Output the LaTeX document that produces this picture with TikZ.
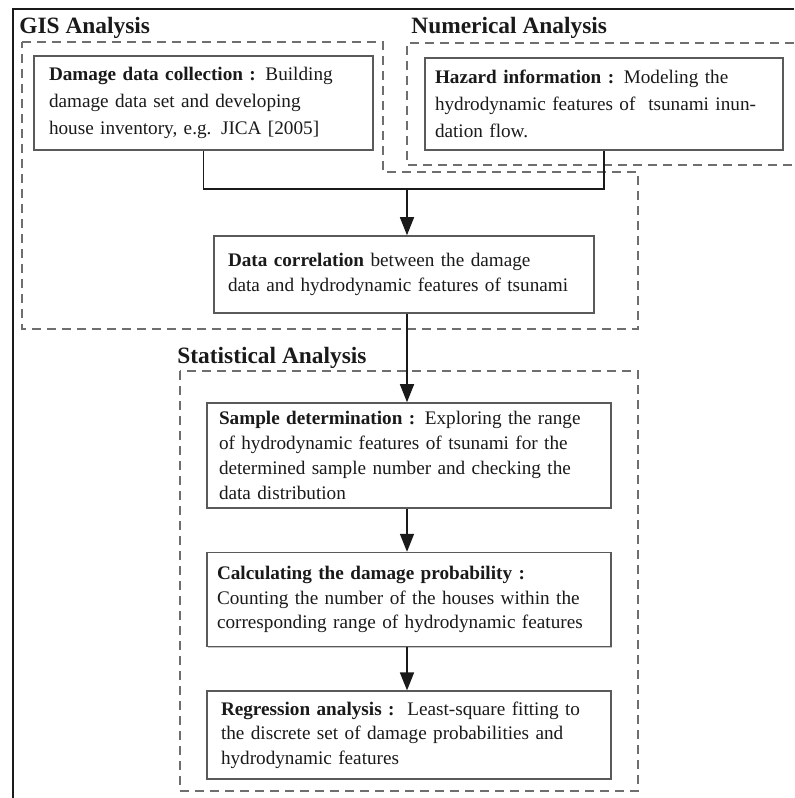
\documentclass[tikz,border=0pt]{standalone}
\usepackage{fontspec}
\setmainfont{Liberation Serif}
\usepackage{xcolor}
\usetikzlibrary{arrows.meta,positioning,shadows}
\setlength{\parindent}{0pt}
\definecolor{Ink}{HTML}{1A1A1A}
\definecolor{Frame}{HTML}{5A5A5A}
\definecolor{DGray}{HTML}{6E6E6E}
\begin{document}
\begin{tikzpicture}[x=0.5pt,y=-0.5pt,
    font=\fontsize{9.6}{12.4}\selectfont,
    stage/.style={draw=Frame,fill=white,line width=0.8pt,align=left,inner ysep=2pt,
      text=Ink,drop shadow={shadow xshift=0.6pt,shadow yshift=-0.6pt,fill=black!45}},
    loose/.style={font=\fontsize{9.6}{13.5}\selectfont},
    grp/.style={draw=DGray,line width=0.8pt,dash pattern=on 4.5pt off 3pt},
    ttl/.style={anchor=base west,inner sep=0pt,text=Ink,
      font=\fontsize{11.7}{13}\selectfont\bfseries},
    flow/.style={draw=Ink,line width=0.8pt},
    arr/.style={flow,-{Triangle[length=9pt,width=7pt]}}]
  \useasboundingbox (0,0) rectangle (794,798);
  % outer frame
  \draw[Ink,line width=1pt] (12.5,798) -- (12.5,8.5) -- (794,8.5);
  % dashed groups
  \draw[grp] (22,42) -- (383,42) -- (383,172) -- (638,172) -- (638,329) -- (22,329) -- cycle;
  \draw[grp] (794,43) -- (407,43) -- (407,165) -- (794,165);
  \draw[grp] (180,371) rectangle (638,791);
  \node[ttl] (gis) at (19,33) {GIS Analysis};
  \node[ttl] (num) at (411,33) {Numerical Analysis};
  \node[ttl] (stat) at (177,363) {Statistical Analysis};
  % stages
  \node[stage,loose,text width=154.5pt,inner xsep=7.5pt,minimum height=47pt] (dmg) at (203.5,103)
    {\textbf{Damage data collection :} Building\\damage data set and developing\\house inventory, e.g. JICA [2005]};
  \node[stage,loose,text width=169pt,inner xsep=5pt,minimum height=46pt] (haz) at (604,104)
    {\textbf{Hazard information :} Modeling the\\hydrodynamic features of\ \ tsunami inun-\\dation flow.};
  \node[stage,text width=176pt,inner xsep=7pt,minimum height=38.5pt] (corr) at (404,274.5)
    {\textbf{Data correlation} between the damage\\data and hydrodynamic features of tsunami};
  \node[stage,text width=190pt,inner xsep=6pt,minimum height=52.5pt] (samp) at (409,455.5)
    {\textbf{Sample determination :} Exploring the range\\of hydrodynamic features of tsunami for the\\determined sample number and checking the\\data distribution};
  \node[stage,text width=192pt,inner xsep=5pt,minimum height=47pt,below=21.5pt of samp] (calc)
    {\textbf{Calculating the damage probability :}\\Counting the number of the houses within the\\corresponding range of hydrodynamic features};
  \node[stage,text width=188pt,inner xsep=7pt,minimum height=44pt,below=21.5pt of calc] (regr)
    {\textbf{Regression analysis :}\ \ Least-square fitting to\\the discrete set of damage probabilities and\\hydrodynamic features};
  % connectors
  \coordinate (join) at (407,189);
  \draw[flow] (dmg.south) |- (join) -| (haz.south);
  \draw[arr] (join) -- (join |- corr.north);
  \draw[arr] (corr.south -| join) -- (samp.north -| join);
  \draw[arr] (samp.south -| join) -- (calc.north -| join);
  \draw[arr] (calc.south -| join) -- (regr.north -| join);
\end{tikzpicture}
\end{document}
